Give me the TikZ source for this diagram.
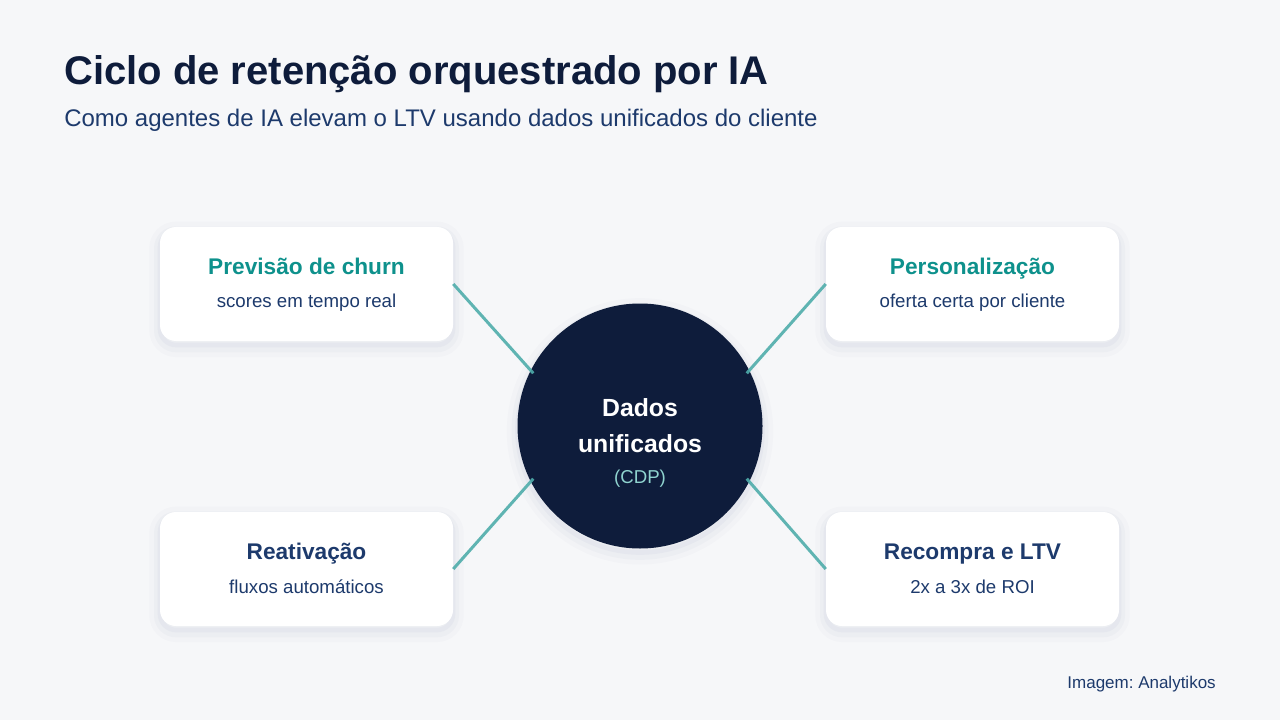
\documentclass[tikz,border=0pt]{standalone}
\usepackage{fontspec}
\setmainfont{Liberation Sans}
\frenchspacing
\usetikzlibrary{calc}
\definecolor{cNavy}{HTML}{0E1C3B}
\definecolor{cBlue}{HTML}{1D3A6C}
\definecolor{cTeal}{HTML}{0E918C}
\definecolor{cLine}{HTML}{4FADAB}
\definecolor{cMint}{HTML}{8FD3CF}
\definecolor{cBg}{HTML}{F6F7F9}
\definecolor{cShade}{HTML}{7C86AE}
\tikzset{
  soft/.style = {preaction={draw=cShade, draw opacity=0.03, line width=16pt,
                            transform canvas={yshift=-4pt}},
                 preaction={draw=cShade, draw opacity=0.045, line width=9pt,
                            transform canvas={yshift=-4pt}},
                 preaction={draw=cShade, draw opacity=0.06, line width=3.5pt,
                            transform canvas={yshift=-3pt}}},
  card/.style = {soft, fill=white, rounded corners=12pt, minimum width=219.75pt,
                 minimum height=85.5pt, inner sep=0pt},
  hub/.style  = {soft, circle, fill=cNavy, minimum size=183.75pt, inner sep=0pt},
  link/.style = {draw=cLine, line width=2.25pt, opacity=0.9, shorten >=-3pt},
  hd/.style   = {anchor=base, inner sep=0pt, font=\fontsize{17pt}{21pt}\selectfont\bfseries},
  sub/.style  = {anchor=base, inner sep=0pt, text=cBlue, font=\fontsize{14pt}{17pt}\selectfont},
}

\begin{document}
\begin{tikzpicture}[x=0.75pt, y=-0.75pt]
  % page
  \fill[cBg] (0,0) rectangle (1280,720);
  \useasboundingbox (0,0) rectangle (1280,720);
  % heading
  \node[anchor=base west, inner sep=0pt, text=cNavy, font=\fontsize{30pt}{36pt}\selectfont\bfseries]
       (title) at (64,85) {Ciclo de retenção orquestrado por IA};
  \node[anchor=base west, inner sep=0pt, text=cBlue, font=\fontsize{18pt}{22pt}\selectfont]
       (lede) at (64,127) {Como agentes de IA elevam o LTV usando dados unificados do cliente};
  % hub
  \node[hub] (hub) at (640,426) {};
  % cards
  \node[card] (churn) at (306.5,284) {};
  \node[card] (pers)  at (972.5,284) {};
  \node[card] (react) at (306.5,569) {};
  \node[card] (ltv)   at (972.5,569) {};
  % connectors
  \draw[link] (churn.east) -- (hub.153);
  \draw[link] (pers.west)  -- (hub.27);
  \draw[link] (react.east) -- (hub.207);
  \draw[link] (ltv.west)   -- (hub.333);
  % hub text
  \node[anchor=base, inner sep=0pt, text=white, font=\fontsize{18.6pt}{22pt}\selectfont\bfseries]
       (hubA) at (640,416) {Dados};
  \node[anchor=base, inner sep=0pt, text=white, font=\fontsize{18.6pt}{22pt}\selectfont\bfseries]
       (hubB) at (640,452) {unificados};
  \node[anchor=base, inner sep=0pt, text=cMint, font=\fontsize{14pt}{17pt}\selectfont]
       (hubC) at (640,483) {(CDP)};
  % card text
  \node[hd, text=cTeal] (churnT) at ($(churn.north)+(0,48)$) {Previsão de churn};
  \node[sub]            (churnS) at ($(churn.north)+(0,81)$) {scores em tempo real};
  \node[hd, text=cTeal] (persT)  at ($(pers.north)+(0,48)$)  {Personalização};
  \node[sub]            (persS)  at ($(pers.north)+(0,81)$)  {oferta certa por cliente};
  \node[hd, text=cBlue] (reactT) at ($(react.north)+(0,48)$) {Reativação};
  \node[sub]            (reactS) at ($(react.north)+(0,82)$) {fluxos automáticos};
  \node[hd, text=cBlue] (ltvT)   at ($(ltv.north)+(0,48)$)   {Recompra e LTV};
  \node[sub]            (ltvS)   at ($(ltv.north)+(0,82)$)   {2x a 3x de ROI};
  % credit
  \node[anchor=base east, inner sep=0pt, text=cBlue, font=\fontsize{12.75pt}{15pt}\selectfont]
       (credit) at (1216,688) {Imagem: Analytikos};
\end{tikzpicture}
\end{document}
